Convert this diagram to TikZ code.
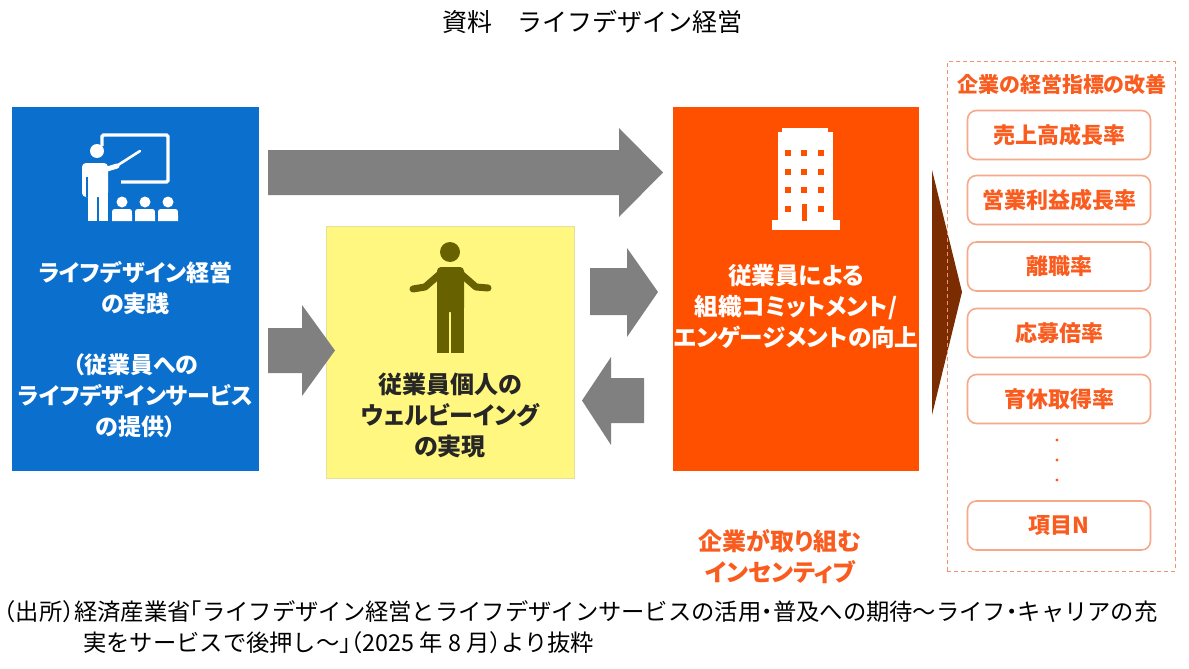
\documentclass[tikz,border=0pt]{standalone}
\usepackage{fontspec}
\setmainfont{Noto Sans CJK JP}
\newfontfamily\jp{Noto Sans CJK JP}[RawFeature=+palt]
\newfontfamily\jpfix{Noto Sans CJK JP}
\newfontfamily\jphalt{Noto Sans CJK JP}[RawFeature=+halt]
\newcommand\hw[1]{{\jphalt #1}}
\definecolor{blueC}{HTML}{0A6FCD}
\definecolor{yellowC}{HTML}{FFF77F}
\definecolor{yellowB}{HTML}{E4E09C}
\definecolor{orangeC}{HTML}{FF5000}
\definecolor{orangeT}{HTML}{F95C1E}
\definecolor{kpiB}{HTML}{F6A98A}
\definecolor{dashC}{HTML}{F3926F}
\definecolor{darkC}{HTML}{7B2C00}
\definecolor{arrowG}{HTML}{808080}
\definecolor{oliveC}{HTML}{686100}
\tikzset{
  panelbox/.style={anchor=north west, inner sep=0pt, outer sep=0pt},
  boxtext/.style={align=center, inner sep=0pt, font=\jp\bfseries\fontsize{24}{31}\selectfont},
  kpi/.style={draw=kpiB, line width=1.6pt, rounded corners=9pt, fill=white,
    minimum width=183pt, minimum height=49pt, inner sep=0pt, text=orangeT,
    font=\jp\bfseries\fontsize{22}{26}\selectfont},
  grayarrow/.style={fill=arrowG, draw=none},
  plain/.style={inner sep=0pt, font=\jpfix\fontsize{22}{26}\selectfont},
  captext/.style={inner sep=0pt, anchor=west, font=\jpfix\fontsize{23.3}{27}\selectfont}
}
\begin{document}
\begin{tikzpicture}[x=1pt,y=-1pt]
\useasboundingbox (0,0) rectangle (1189,669);
\fill[white] (0,0) rectangle (1189,669);

% title
\node[plain, font=\jpfix\fontsize{25}{30}\selectfont] (title) at (592,22) {資料　ライフデザイン経営};

% main boxes
\node[panelbox, fill=blueC, minimum width=247pt, minimum height=364pt] (blue) at (12,107) {};
\node[panelbox, fill=yellowC, draw=yellowB, line width=0.8pt, minimum width=248pt, minimum height=252pt] (yellow) at (326,226) {};
\node[panelbox, fill=orangeC, minimum width=246pt, minimum height=364pt] (orange) at (673,107) {};

% texts in boxes
\node[boxtext, text=white, font=\jp\bfseries\fontsize{23}{31}\selectfont] (bluetext) at (135.5,349.5)
  {ライフデザイン経営\\の実践\\[30pt]（従業員への\\ライフデザインサービス\\の提供）};
\node[boxtext, text=black!85] (yellowtext) at (450,415)
  {従業員個人の\\ウェルビーイング\\の実現};
\node[boxtext, text=white, font=\jp\bfseries\fontsize{23.6}{31}\selectfont] (orangetext) at (796,307)
  {従業員による\\組織コミットメント/\\エンゲージメントの向上};

% teacher icon
\begin{scope}[white]
  \draw[line width=3.2pt, rounded corners=1.5pt] (102,146) -- (102,135) -- (168,135) -- (168,182) -- (121,182);
  \fill (97,151) circle (7);
  \fill[rounded corners=4pt] (82,197) -- (82,163) -- (108,163) -- (108,197) -- cycle;
  \fill (88,194) rectangle (97.3,221);
  \fill (98.7,194) rectangle (108,221);
  \draw[line width=5pt, line cap=round] (104,170) -- (117,166);
  \draw[line width=2.6pt, line cap=round] (115,167) -- (140,151);
  \foreach \x in {122,145,168} {
    \fill (\x,202) circle (5.5);
    \fill ({\x-10},221) -- ({\x-10},215) .. controls ({\x-10},209) and ({\x-10},209) .. ({\x-4},209)
      -- ({\x+4},209) .. controls ({\x+10},209) and ({\x+10},209) .. ({\x+10},215) -- ({\x+10},221) -- cycle;
  }
\end{scope}
\draw[blueC, line width=1.2pt] (87,177) -- (87,197);

% person icon
\begin{scope}[oliveC]
  \fill (450,252) circle (10);
  \fill[rounded corners=4pt] (437,312) -- (437,267) -- (464,267) -- (464,312) -- cycle;
  \fill (437.3,305) rectangle (449.2,353);
  \fill (451.3,305) rectangle (463.7,353);
  \draw[line width=7pt, line cap=round, line join=round] (440,274) -- (425,287) -- (413,289);
  \draw[line width=7pt, line cap=round, line join=round] (461,274) -- (476,287) -- (488,288);
\end{scope}

% building icon
\begin{scope}[white]
  \fill (782,128) rectangle (828,134);
  \fill (778,132) rectangle (833,221);
  \fill (772,220) rectangle (840,230);
\end{scope}
\foreach \x in {788,804,821} {
  \foreach \y in {153,172,190} {
    \fill[orangeC] ({\x-3},{\y-3}) rectangle ({\x+3},{\y+3});
  }
}
\fill[orangeC] (785,206) rectangle (791,212);
\fill[orangeC] (818,206) rectangle (824,212);
\fill[orangeC] (801.7,204) rectangle (806.7,220.5);

% gray block arrows
\fill[grayarrow] (268,150) -- (619,150) -- (619,128) -- (663,172.5) -- (619,217) -- (619,195) -- (268,195) -- cycle;
\fill[grayarrow] (268,328) -- (302,328) -- (302,305) -- (335,350.5) -- (302,396) -- (302,373) -- (268,373) -- cycle;
\fill[grayarrow] (590,268) -- (627,268) -- (627,248) -- (658,292) -- (627,337) -- (627,315) -- (590,315) -- cycle;
\fill[grayarrow] (644,378) -- (611,378) -- (611,357) -- (582,400.5) -- (611,445) -- (611,423) -- (644,423) -- cycle;

% dark triangle
\fill[darkC] (932,170) -- (962,292) -- (932,415) -- cycle;

% KPI panel
\node[panelbox, draw=dashC, line width=1pt, dash pattern=on 4pt off 3pt, minimum width=228pt, minimum height=509pt] (panel) at (947,62) {};
\node[inner sep=0pt, text=orangeT, font=\jp\bfseries\fontsize{21}{25}\selectfont] (paneltitle) at (1062,85) {企業の経営指標の改善};
\node[kpi] (k1) at (1059,135) {売上高成長率};
\node[kpi] (k2) at (1059,200) {営業利益成長率};
\node[kpi] (k3) at (1059,266.5) {離職率};
\node[kpi] (k4) at (1059,333) {応募倍率};
\node[kpi] (k5) at (1059,399) {育休取得率};
\node[kpi] (kn) at (1059,525.5) {項目N};
\foreach \y in {440,460,480} { \fill[orangeT] (1057,\y) circle (1.6); }

% incentive label
\node[boxtext, text=orangeT] (incentive) at (780,557) {企業が取り組む\\インセンティブ};

% caption
\node[captext] (cap1) at (4,612) {\hw{（}出所\hw{）}経済産業省\hw{「}ライフデザイン経営とライフデザインサービスの活用\hw{・}普及への期待～ライフ\hw{・}キャリアの充};
\node[captext] (cap2) at (83,643) {実をサービスで後押し～\hw{」（}2025 年 8 月\hw{）}より抜粋};
\end{tikzpicture}
\end{document}
